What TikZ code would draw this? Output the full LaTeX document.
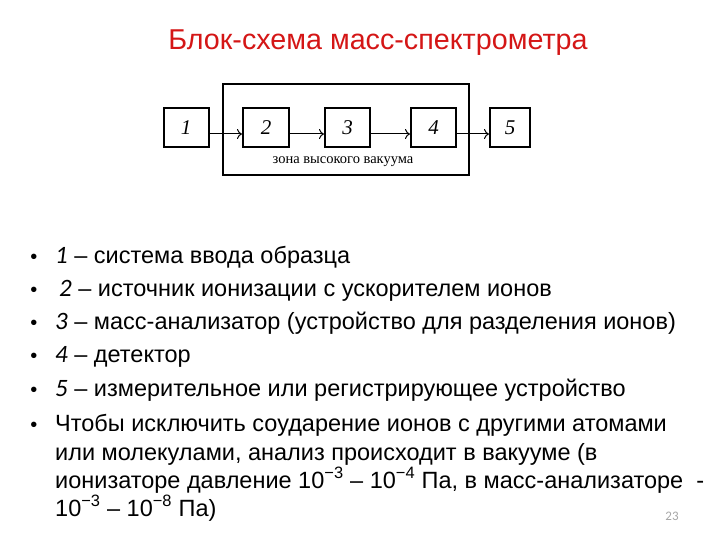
\documentclass[tikz,border=0pt]{standalone}
\usepackage{fontspec}
\setmainfont{Liberation Sans}
\newfontfamily\digitfont{Carlito}
\newfontfamily\boxfont{Liberation Serif}
\usetikzlibrary{arrows.meta}
\definecolor{titlered}{RGB}{212,22,22}
\newcommand{\itnum}[1]{{\digitfont\itshape\fontsize{25}{28}\selectfont #1}}
\begin{document}
\begin{tikzpicture}[x=1pt, y=-1pt,
  blk/.style={draw, line width=2pt, minimum height=39pt, inner sep=0pt, font={\boxfont\itshape\fontsize{21}{21}\selectfont}},
  flow/.style={line width=1pt, -{To[length=5pt, width=10pt]}},
  item/.style={anchor=base west, inner sep=0pt, font={\fontsize{23.5}{28}\selectfont}},
  dot/.style={anchor=base, inner sep=0pt, font={\fontsize{20}{24}\selectfont}}]
  \useasboundingbox (0,0) rectangle (720,540);
  % title
  \node[text=titlered, font={\fontsize{28.7}{32}\selectfont}] (title) at (378,43) {Блок-схема масс-спектрометра};
  % high vacuum zone
  \node[draw, line width=2pt, minimum width=246pt, minimum height=91pt, inner sep=0pt] (vac) at (346,129.5) {};
  \node[font={\boxfont\fontsize{14.5}{14.5}\selectfont}] (vaclbl) at (343,162) {зона высокого вакуума};
  % blocks
  \foreach \x/\w [count=\n] in {186/45, 266/46, 347.5/45, 433.5/45, 510/40} {
    \node[blk, minimum width=\w pt] (b\n) at (\x,128) {\n};
  }
  % arrows between blocks
  \foreach \a [count=\n] in {2,3,4,5} {
    \draw[flow] ([yshift=-6pt]b\n.east) -- ([yshift=-6pt]b\a.west);
  }
  % bullets
  \foreach \y [count=\n] in {263,296,329,362,396,431} {
    \node[dot] (dot\n) at (34,\y) {•};
  }
  % text lines
  \foreach \x/\y/\t [count=\n] in {
    55/263/{\itnum{1} – система ввода образца},
    59/296/{\itnum{2} – источник ионизации с ускорителем ионов},
    55/329/{\itnum{3} – масс-анализатор (устройство для разделения ионов)},
    55/362/{\itnum{4} – детектор},
    55/396/{\itnum{5} – измерительное или регистрирующее устройство},
    55/431/{Чтобы исключить соударение ионов с другими атомами},
    55/460/{или молекулами, анализ происходит в вакууме (в},
    55/488/{ионизаторе давление 10\textsuperscript{−3} – 10\textsuperscript{−4} Па, в масс-анализаторе \ -},
    55/516/{10\textsuperscript{−3} – 10\textsuperscript{−8} Па)}} {
    \node[item] (line\n) at (\x,\y) {\t};
  }
  % slide number
  \node[text=gray!70, font={\digitfont\fontsize{13}{13}\selectfont}] (pg) at (672,516) {23};
\end{tikzpicture}
\end{document}
